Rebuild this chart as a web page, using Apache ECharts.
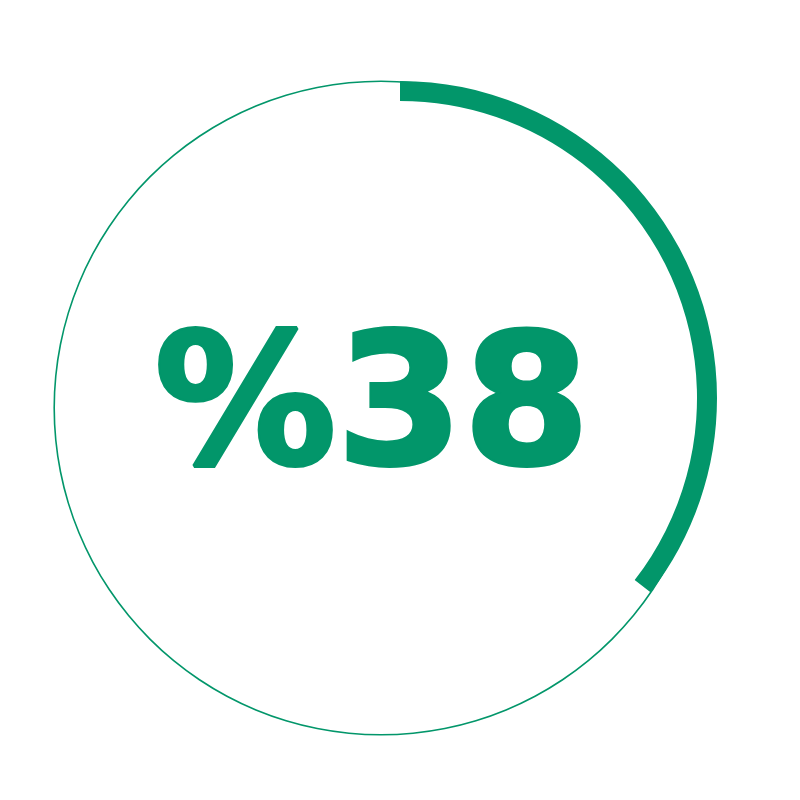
<!DOCTYPE html>
<html lang="en">
<head>
  <meta charset="UTF-8">
  <title>progress ring</title>
  <script src="https://cdn.jsdelivr.net/npm/echarts@6/dist/echarts.min.js"></script>
  <style>
    html, body { margin: 0; padding: 0; background: #fff; }
    #main { width: 800px; height: 800px; }
  </style>
</head>
<body>
  <div id="main"></div>
  <script>
    // data
    var labelValue = 38          // number printed in the middle
    var arcShare = [35.5, 64.5]  // filled part of the ring / rest
    var ringName = ['done', 'rest']

    var green = '#02966a'
    var chart = echarts.init(document.getElementById('main'), null, { renderer: 'canvas' })

    var option = {
      animation: false,
      backgroundColor: '#fff',
      graphic: [{
        type: 'text',
        x: 372,
        y: 416,
        style: {
          text: '%' + labelValue,
          fill: green,
          font: 'bold 182px "DejaVu Sans"',
          align: 'center',
          verticalAlign: 'middle',
          stroke: green,
          lineWidth: 4
        }
      }],
      series: [
        // thin outline circle
        {
          type: 'pie',
          silent: true,
          center: [381, 408],
          radius: [326, 327.6],
          label: { show: false },
          labelLine: { show: false },
          itemStyle: { color: green },
          data: [{ value: 1, name: 'outline' }]
        },
        // thick progress arc
        {
          type: 'pie',
          silent: true,
          center: [400, 398],
          radius: [297, 317],
          startAngle: 90,
          clockwise: true,
          label: { show: false },
          labelLine: { show: false },
          data: [
            { value: arcShare[0], name: ringName[0], itemStyle: { color: green } },
            { value: arcShare[1], name: ringName[1], itemStyle: { color: 'rgba(0,0,0,0)' } }
          ]
        }
      ]
    }
    chart.setOption(option)
  </script>
</body>
</html>
